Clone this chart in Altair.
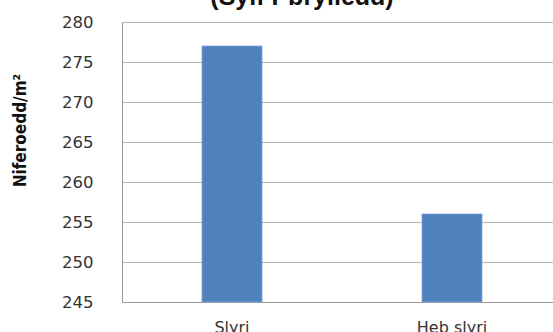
import altair as alt
import pandas as pd

# Data
categories = ["Slyri", "Heb slyri"]
values = [277, 256]
y_ticks = [245, 250, 255, 260, 265, 270, 275, 280]
title_text = "(Sylf Pbrylledd)"
y_title = "Niferoedd/m²"

df = pd.DataFrame({"cat": categories, "val": values})

label_font = "DejaVu Sans"
axis_grey = "#999999"
grid_grey = "#b5b5b5"

bars = alt.Chart(df).mark_bar(color="#4F81BD", size=60, stroke="#7ea3d6", strokeWidth=0.8).encode(
    x=alt.X(
        "cat:N",
        sort=categories,
        scale=alt.Scale(range=[0, 440], paddingInner=0, paddingOuter=0),
        axis=alt.Axis(
            title=None,
            labelAngle=0,
            labelFont=label_font,
            labelFontSize=16,
            labelColor="#333333",
            labelPadding=17,
            ticks=False,
            domainColor=axis_grey,
            grid=False,
        ),
    ),
    y=alt.Y(
        "val:Q",
        scale=alt.Scale(domain=[245, 280], nice=False, zero=False),
        axis=alt.Axis(
            values=y_ticks,
            title=y_title,
            titleFont="Liberation Sans Narrow, Arial Narrow, DejaVu Sans Condensed, sans-serif",
            titleFontSize=17,
            titleFontWeight="bold",
            titleColor="#111111",
            titleAngle=-90,
            titleX=-102,
            titleY=108,
            titleAlign="center",
            titleBaseline="middle",
            labelFont=label_font,
            labelFontSize=16.5,
            labelColor="#333333",
            labelPadding=29,
            ticks=False,
            domainColor=axis_grey,
            gridColor=grid_grey,
            gridWidth=1,
        ),
    ),
    y2=alt.datum(245),
)

title = alt.Chart(pd.DataFrame({"t": [title_text]})).mark_text(
    font="Liberation Sans",
    fontSize=25,
    fontWeight="bold",
    color="#111111",
    align="center",
    baseline="alphabetic",
).encode(text="t:N", x=alt.value(180), y=alt.value(-17))

chart = (
    alt.layer(bars, title)
    .properties(
        width=431,
        height=280,
        autosize=alt.AutoSizeParams(type="none"),
        padding={"left": 122, "top": 22, "right": 0, "bottom": 30},
    )
    .configure_view(stroke=None)
    .configure(background="white")
)

chart.save("out.html", embed_options={"renderer": "svg", "actions": False})
